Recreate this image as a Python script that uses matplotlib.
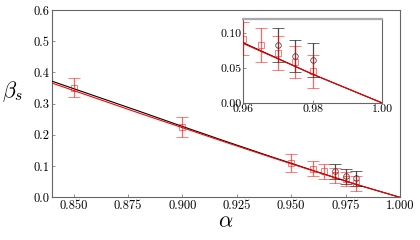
import matplotlib
matplotlib.use("Agg")
import matplotlib.pyplot as plt

plt.rcParams['mathtext.fontset'] = 'cm'
plt.rcParams['font.family'] = ['cmr10', 'DejaVu Serif']
plt.rcParams['axes.formatter.use_mathtext'] = True

# red squares (series 1)
alpha_red = [0.85, 0.90, 0.95, 0.96, 0.965, 0.97, 0.975, 0.98]
beta_red = [0.351, 0.225, 0.110, 0.092, 0.083, 0.071, 0.058, 0.045]
err_red = [0.030, 0.033, 0.030, 0.024, 0.024, 0.024, 0.023, 0.024]

# black circles (series 2)
alpha_blk = [0.97, 0.975, 0.98]
beta_blk = [0.083, 0.067, 0.061]
err_blk = [0.024, 0.023, 0.024]

# fitted curves
alpha_fit = [0.84, 0.86, 0.88, 0.90, 0.92, 0.94, 0.96, 0.98, 1.00]
beta_fit_blk = [0.372, 0.324, 0.276, 0.227, 0.179, 0.132, 0.086, 0.041, 0.0]
beta_fit_red = [0.366, 0.318, 0.270, 0.223, 0.176, 0.130, 0.085, 0.041, 0.0]

xticks_main = [0.850, 0.875, 0.900, 0.925, 0.950, 0.975, 1.000]
yticks_main = [0.0, 0.1, 0.2, 0.3, 0.4, 0.5, 0.6]
xticks_in = [0.96, 0.98, 1.00]
yticks_in = [0.00, 0.05, 0.10]

fig = plt.figure(figsize=(4.2, 2.4), dpi=100)
ax = fig.add_axes([0.124, 0.178, 0.828, 0.780])
axin = fig.add_axes([0.579, 0.571, 0.331, 0.350])

spine_col = '#666666'

def draw(a, ms):
    a.plot(alpha_fit, beta_fit_blk, color='black', lw=0.8, zorder=3)
    a.plot(alpha_fit, beta_fit_red, color='red', lw=0.8, zorder=3)
    a.errorbar(alpha_blk, beta_blk, yerr=err_blk, fmt='o', mfc='none',
               mec='black', ecolor='black', ms=ms, mew=0.6, elinewidth=0.9,
               capsize=4, capthick=0.9, alpha=0.7, zorder=4)
    a.errorbar(alpha_red, beta_red, yerr=err_red, fmt='s', mfc='none',
               mec='red', ecolor='red', ms=ms, mew=0.6, elinewidth=0.9,
               capsize=4, capthick=0.9, alpha=0.6, zorder=5)
    for s in a.spines.values():
        s.set_color(spine_col)
        s.set_linewidth(0.8)
    a.tick_params(direction='in', length=2, width=0.5, color=spine_col,
                  labelsize=9, pad=2)

draw(ax, 4)
ax.set_xlim(0.84, 1.0)
ax.set_ylim(0.0, 0.6)
ax.set_xticks(xticks_main)
ax.set_xticklabels(['%.3f' % v for v in xticks_main])
ax.set_yticks(yticks_main)
ax.set_yticklabels(['%.1f' % v for v in yticks_main])
ax.set_xlabel(r'$\alpha$', fontsize=16, labelpad=0)
ax.set_ylabel(r'$\beta_s$', fontsize=16, rotation=0, labelpad=10)
ax.yaxis.set_label_coords(-0.115, 0.50)

draw(axin, 4)
axin.set_xlim(0.96, 1.0)
axin.set_ylim(0.0, 0.12)
axin.set_xticks(xticks_in)
axin.set_xticklabels(['%.2f' % v for v in xticks_in])
axin.set_yticks(yticks_in)
axin.set_yticklabels(['%.2f' % v for v in yticks_in])
axin.tick_params(labelsize=8.5, pad=1)
axin.spines['top'].set_color('#aaaaaa')
axin.spines['top'].set_linewidth(1.6)

fig.savefig('out.png', dpi=100)
